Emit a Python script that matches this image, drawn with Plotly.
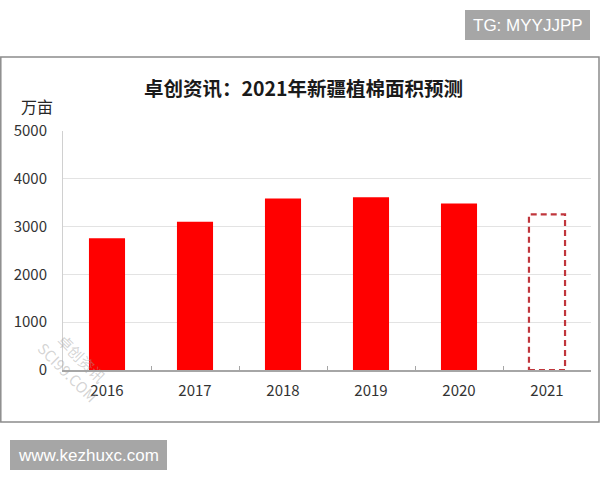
import plotly.graph_objects as go

years = ["2016", "2017", "2018", "2019", "2020", "2021"]
areas = [2755, 3100, 3590, 3612, 3485, 3255]
forecast_flags = [False, False, False, False, False, True]
y_ticks = [0, 1000, 2000, 3000, 4000, 5000]

title_text = "卓创资讯：2021年新疆植棉面积预测"
unit_text = "万亩"

W, H = 600, 480
L, R, T, B = 63, 9, 131, 110
pw, ph = W - L - R, H - T - B

def px(x):
    return (x - L) / pw

def py(y):
    return (H - B - y) / ph

FONT = "Noto Sans CJK SC"
bar_w = 0.41

actual_x = [y for y, f in zip(years, forecast_flags) if not f]
actual_v = [v for v, f in zip(areas, forecast_flags) if not f]
fc_x = [y for y, f in zip(years, forecast_flags) if f]
fc_v = [v for v, f in zip(areas, forecast_flags) if f]

fig = go.Figure()
fig.add_trace(go.Bar(x=actual_x, y=actual_v, width=bar_w,
                     marker=dict(color="#ff0000", line=dict(width=0)),
                     showlegend=False))
fig.add_trace(go.Bar(x=fc_x, y=fc_v, width=bar_w,
                     marker=dict(color="rgba(0,0,0,0)", line=dict(width=0)),
                     showlegend=False))

shapes = []
# dashed forecast bar outline
for yr, v in zip(fc_x, fc_v):
    i = years.index(yr)
    shapes.append(dict(type="rect", xref="x", yref="y",
                       x0=i - bar_w / 2, x1=i + bar_w / 2, y0=0, y1=v,
                       line=dict(color="#c0363c", width=2.2, dash="6px,4px"),
                       fillcolor="rgba(0,0,0,0)", layer="above"))
# outer chart frame
shapes.append(dict(type="rect", xref="paper", yref="paper",
                   x0=px(0.8), x1=px(599), y0=py(422), y1=py(57),
                   line=dict(color="#8c8c8c", width=1.5), layer="below"))
# watermark boxes
shapes.append(dict(type="rect", xref="paper", yref="paper",
                   x0=px(465), x1=px(590), y0=py(40), y1=py(10),
                   line=dict(width=0), fillcolor="#a6a6a6"))
shapes.append(dict(type="rect", xref="paper", yref="paper",
                   x0=px(10), x1=px(167), y0=py(470), y1=py(440),
                   line=dict(width=0), fillcolor="#a6a6a6"))

annotations = [
    dict(text=title_text, xref="paper", yref="paper", x=px(303), y=py(88),
         showarrow=False, xanchor="center", yanchor="middle",
         font=dict(family=FONT, size=19.5, color="#1a1a1a", weight="bold")),
    dict(text=unit_text, xref="paper", yref="paper", x=px(19), y=py(106),
         showarrow=False, xanchor="left", yanchor="middle",
         font=dict(family=FONT, size=16, color="#262626")),
    dict(text="TG: MYYJJPP", xref="paper", yref="paper", x=px(527.5), y=py(25),
         showarrow=False, xanchor="center", yanchor="middle",
         font=dict(family="Liberation Sans", size=17, color="#ffffff")),
    dict(text="www.kezhuxc.com", xref="paper", yref="paper", x=px(88.5), y=py(455),
         showarrow=False, xanchor="center", yanchor="middle",
         font=dict(family="Liberation Sans", size=17, color="#ffffff")),
    dict(text="卓创资讯<br>SCI99.COM", xref="paper", yref="paper", x=px(75), y=py(365),
         showarrow=False, xanchor="center", yanchor="middle", textangle=45,
         font=dict(family=FONT, size=15, color="rgba(160,160,160,0.45)")),
]

fig.update_layout(
    width=W, height=H,
    margin=dict(l=L, r=R, t=T, b=B, autoexpand=False),
    paper_bgcolor="white", plot_bgcolor="white",
    shapes=shapes, annotations=annotations,
    bargap=0.59,
    font=dict(family=FONT, size=15, color="#333333"),
    xaxis=dict(type="category", categoryorder="array", categoryarray=years,
               range=[-0.5, len(years) - 0.5],
               showline=True, linecolor="#a6a6a6", linewidth=1.5,
               ticks="inside", tickson="boundaries", ticklen=4,
               tickcolor="#a6a6a6", showgrid=False, ticklabelstandoff=6,
               tickfont=dict(family=FONT, size=15, color="#333333"),
               fixedrange=True),
    yaxis=dict(range=[0, 5000], tickvals=y_ticks,
               ticktext=[str(v) for v in y_ticks],
               showgrid=True, gridcolor="#e3e3e3", gridwidth=1,
               showline=True, linecolor="#d0d0d0", linewidth=1,
               zeroline=False, ticks="", ticklabelstandoff=12,
               tickfont=dict(family=FONT, size=15, color="#333333"),
               fixedrange=True),
)

fig.write_html("out.html", config={"displayModeBar": False},
               post_script="document.body.style.margin='0';document.body.style.overflow='hidden';")
